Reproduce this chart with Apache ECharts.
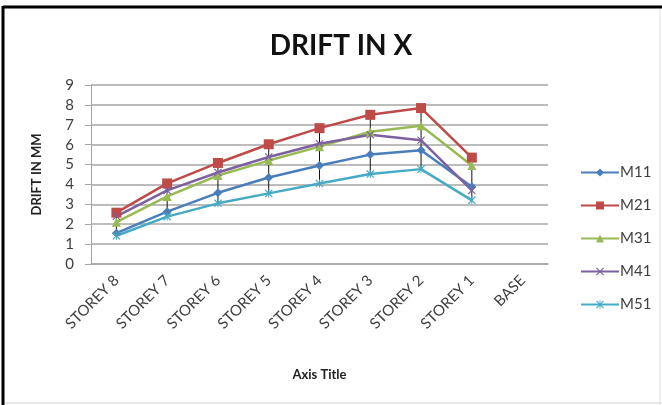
<!DOCTYPE html>
<html>
<head>
<meta charset="utf-8">
<script src="https://cdn.jsdelivr.net/npm/echarts@6/dist/echarts.min.js"></script>
<style>
  html, body { margin: 0; padding: 0; background: #fff; }
  #chart { width: 662px; height: 405px; }
</style>
</head>
<body>
<div id="chart"></div>
<script>
// Storey drift along X (mm) for five models
const categories = ['STOREY 8', 'STOREY 7', 'STOREY 6', 'STOREY 5', 'STOREY 4', 'STOREY 3', 'STOREY 2', 'STOREY 1', 'BASE'];
const m11 = [1.55, 2.63, 3.58, 4.35, 4.95, 5.5, 5.72, 3.88, null];
const m21 = [2.58, 4.05, 5.08, 6.02, 6.83, 7.5, 7.84, 5.35, null];
const m31 = [2.1, 3.4, 4.45, 5.2, 5.9, 6.65, 6.95, 4.95, null];
const m41 = [2.4, 3.7, 4.6, 5.38, 6.05, 6.5, 6.22, 3.7, null];
const m51 = [1.42, 2.38, 3.05, 3.55, 4.05, 4.52, 4.77, 3.2, null];
const yTicks = [0, 1, 2, 3, 4, 5, 6, 7, 8, 9];

const seriesDefs = [
  { name: 'M11', data: m11, color: '#4a7ebb', symbol: 'diamond', size: 9 },
  { name: 'M21', data: m21, color: '#be4b48', symbol: 'rect', size: 10 },
  { name: 'M31', data: m31, color: '#98b954', symbol: 'triangle', size: 9 },
  { name: 'M41', data: m41, color: '#7d60a0', symbol: 'path://M0,1L1,0L5,4L9,0L10,1L6,5L10,9L9,10L5,6L1,10L0,9L4,5Z', size: 8 },
  { name: 'M51', data: m51, color: '#46aac5', symbol: 'path://M0,1L1,0L5,4L9,0L10,1L6,5L10,9L9,10L5,6L1,10L0,9L4,5ZM4.4,0H5.6V10H4.4Z', size: 8 }
];

// High-low lines joining the highest and lowest model at each storey
const highLow = categories.map((c, i) => {
  const vals = seriesDefs.map(s => s.data[i]).filter(v => v != null);
  return vals.length ? [i, Math.max(...vals), Math.min(...vals)] : [i, null, null];
});

const chart = echarts.init(document.getElementById('chart'), null, { renderer: 'canvas' });

const lineSeries = seriesDefs.map(s => ({
  name: s.name,
  type: 'line',
  data: s.data,
  symbol: s.symbol,
  symbolSize: s.size,
  showAllSymbol: true,
  lineStyle: { color: s.color, width: 2.5 },
  itemStyle: { color: s.color },
  emphasis: { disabled: true },
  z: 3
}));

chart.setOption({
  animation: false,
  backgroundColor: '#fff',
  textStyle: { fontFamily: 'Lato, "Open Sans", sans-serif' },
  title: {
    text: 'DRIFT IN X',
    left: 336,
    textAlign: 'center',
    top: 27,
    textStyle: { fontFamily: 'Lato, sans-serif', fontWeight: 'bold', fontSize: 28, color: '#111' }
  },
  legend: {
    orient: 'vertical',
    left: 575,
    top: 160,
    itemGap: 18,
    itemWidth: 38,
    itemHeight: 10,
    data: seriesDefs.map(s => s.name),
    textStyle: { fontSize: 15, color: '#404040', padding: [0, 0, 0, -4] }
  },
  grid: { left: 91, right: 114, top: 85, bottom: 141, containLabel: false },
  xAxis: {
    type: 'category',
    data: categories,
    boundaryGap: true,
    name: 'Axis Title',
    nameLocation: 'middle',
    nameGap: 104,
    nameTextStyle: { fontWeight: 'bold', fontSize: 13, color: '#222' },
    axisLine: { lineStyle: { color: '#a6a6a6', width: 1.5 } },
    axisTick: { show: false },
    axisLabel: { rotate: 45, fontSize: 15, color: '#404040', margin: 14, interval: 0 }
  },
  yAxis: {
    type: 'value',
    min: yTicks[0],
    max: yTicks[yTicks.length - 1],
    interval: 1,
    name: 'DRIFT IN MM',
    nameLocation: 'middle',
    nameGap: 48,
    nameRotate: 90,
    nameTextStyle: { fontWeight: 'bold', fontSize: 13, color: '#222' },
    axisLine: { show: true, lineStyle: { color: '#a6a6a6', width: 1 } },
    axisTick: { show: true, length: 6, inside: false, lineStyle: { color: '#a6a6a6' } },
    axisLabel: { fontSize: 15, color: '#404040', margin: 17 },
    splitLine: { lineStyle: { color: '#a6a6a6', width: 1.5 } }
  },
  series: [
    {
      name: 'highlow',
      type: 'custom',
      data: highLow,
      encode: { x: 0, y: [1, 2] },
      z: 2,
      silent: true,
      renderItem: function (params, api) {
        if (api.value(1) == null || isNaN(api.value(1))) return;
        const top = api.coord([api.value(0), api.value(1)]);
        const bot = api.coord([api.value(0), api.value(2)]);
        return {
          type: 'line',
          shape: { x1: top[0], y1: top[1], x2: bot[0], y2: bot[1] },
          style: { stroke: '#111', lineWidth: 1 }
        };
      }
    }
  ].concat(lineSeries),
  graphic: [
    { type: 'line', shape: { x1: 3, y1: 7, x2: 662, y2: 7 }, style: { stroke: '#000', lineWidth: 3 } },
    { type: 'line', shape: { x1: 3, y1: 6, x2: 3, y2: 405 }, style: { stroke: '#000', lineWidth: 3 } },
    { type: 'line', shape: { x1: 5, y1: 403, x2: 662, y2: 403 }, style: { stroke: '#d0d0d0', lineWidth: 1 } },
    { type: 'line', shape: { x1: 660, y1: 9, x2: 660, y2: 405 }, style: { stroke: '#e0e0e0', lineWidth: 1 } }
  ]
});
</script>
</body>
</html>
